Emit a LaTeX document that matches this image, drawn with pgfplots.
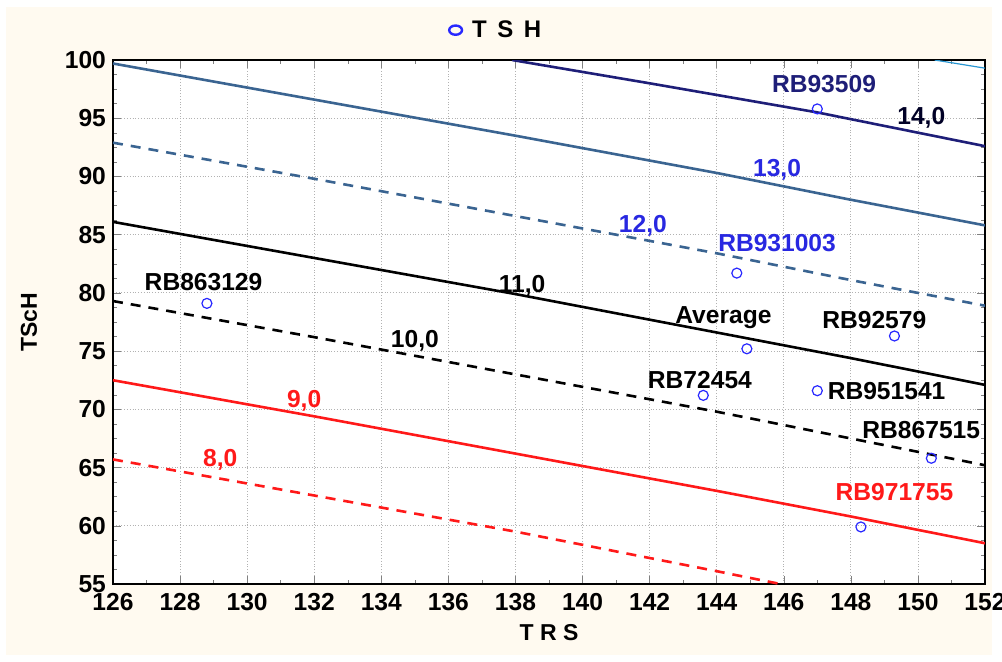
\documentclass[border=0pt]{standalone}
\usepackage{fontspec}
\setmainfont{Liberation Sans}
\usepackage{pgfplots}
\pgfplotsset{compat=1.18}

\definecolor{cream}{RGB}{255,250,240}
\definecolor{navyline}{RGB}{30,30,120}
\definecolor{steel}{RGB}{58,100,145}
\definecolor{lightblue}{RGB}{40,150,210}
\definecolor{ptblue}{RGB}{40,40,255}
\definecolor{lblblue}{RGB}{40,40,225}
\definecolor{cred}{RGB}{255,25,25}

\begin{document}
\begin{tikzpicture}
\path[use as bounding box, fill=white] (-56.5pt,-38.5pt) rectangle (444.5pt,292pt);
\fill[cream] (-53.5pt,-35.5pt) rectangle (439.5pt,288.5pt);
\begin{axis}[
  scale only axis,
  width=436pt, height=262pt,
  xmin=126, xmax=152, ymin=55, ymax=100,
  xtick={126,128,...,152}, ytick={55,60,...,100},
  minor x tick num=1, minor y tick num=3,
  tick align=inside,
  major tick length=4pt, minor tick length=2pt,
  axis line style={line width=0.8pt},
  axis background/.style={fill=white},
  grid=major,
  grid style={densely dotted, gray!60, line width=0.4pt},
  /pgf/number format/assume math mode=true,
  ticklabel style={font=\fontsize{12.3}{13}\selectfont\bfseries},
  xticklabel style={yshift=-1pt},
  xlabel={T R S}, ylabel={TScH},
  label style={font=\fontsize{11.5}{12}\selectfont\bfseries},
  xlabel style={yshift=0pt},
  ylabel style={yshift=7pt},
  legend style={at={(0.44,1.057)}, anchor=center, draw=none, fill=none,
    font=\fontsize{12}{13}\selectfont\bfseries},
  legend image code/.code={\path (-3.5pt,0pt) (6pt,0pt);
    \draw[ptblue, line width=1.2pt] (0pt,0pt) ellipse (3.2pt and 2.3pt);},
  clip=true,
]
% contour lines
\addplot[lightblue, line width=0.6pt, forget plot] coordinates {(150.5,100) (152,99.3)};
\addplot[navyline, line width=1.3pt, forget plot] coordinates {(137.9,100) (142,98.0) (147,95.5) (152,92.6)};
\addplot[steel, line width=1.3pt, forget plot] coordinates {(126,99.7) (132,96.6) (138,93.5) (144,90.3) (148,88.0) (152,85.8)};
\addplot[steel, line width=1.3pt, dash pattern=on 5pt off 4pt, forget plot] coordinates {(126,92.9) (132,89.8) (138,86.6) (144,83.4) (148,81.1) (152,78.9)};
\addplot[black, line width=1.3pt, forget plot] coordinates {(126,86.1) (132,83.0) (138,79.9) (144,76.6) (148,74.4) (152,72.1)};
\addplot[black, line width=1.3pt, dash pattern=on 5pt off 4pt, forget plot] coordinates {(126,79.3) (132,76.2) (138,73.0) (144,69.8) (148,67.5) (152,65.2)};
\addplot[cred, line width=1.3pt, forget plot] coordinates {(126,72.5) (132,69.4) (138,66.2) (144,63.0) (148,60.8) (152,58.5)};
\addplot[cred, line width=1.3pt, dash pattern=on 5pt off 4pt, forget plot] coordinates {(126,65.7) (132,62.6) (138,59.5) (144,56.1) (145.9,55)};
% observations
\addplot[only marks, mark=o, mark size=2.5pt, mark options={ptblue, line width=0.6pt}] coordinates {
  (147.0,95.8) (144.6,81.7) (128.8,79.1) (144.9,75.2) (149.3,76.3)
  (143.6,71.2) (147.0,71.6) (150.4,65.8) (148.3,59.9)
};
\addlegendentry{T\, S\, H}
% labels
\begin{scope}[every node/.style={font=\fontsize{12.3}{13}\selectfont\bfseries, inner sep=0pt}]
\node[navyline] at (axis cs:147.2,97.9) {RB93509};
\node[black!85!blue] at (axis cs:150.1,95.0) {14,0};
\node[lblblue] at (axis cs:145.8,90.6) {13,0};
\node[lblblue] at (axis cs:141.8,85.8) {12,0};
\node[lblblue] at (axis cs:145.8,84.3) {RB931003};
\node at (axis cs:138.2,80.6) {11,0};
\node at (axis cs:128.7,80.9) {RB863129};
\node at (axis cs:144.2,77.9) {Average};
\node at (axis cs:148.7,77.7) {RB92579};
\node at (axis cs:135.0,75.9) {10,0};
\node at (axis cs:143.5,72.5) {RB72454};
\node[anchor=west] at (axis cs:147.3,71.6) {RB951541};
\node[cred] at (axis cs:131.7,70.7) {9,0};
\node at (axis cs:150.1,68.2) {RB867515};
\node[cred] at (axis cs:129.2,65.7) {8,0};
\node[cred] at (axis cs:149.3,62.9) {RB971755};
\end{scope}
\end{axis}
\end{tikzpicture}
\end{document}
